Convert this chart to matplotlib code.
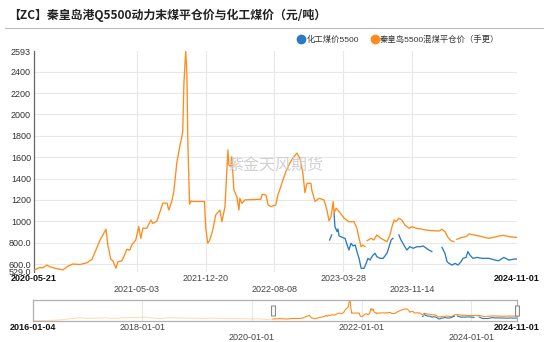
import numpy as np
import pandas as pd
import matplotlib
matplotlib.use('Agg')
import matplotlib.pyplot as plt
import matplotlib.dates as mdates
from matplotlib.lines import Line2D
from matplotlib.transforms import blended_transform_factory

plt.rcParams['font.family'] = ['Liberation Sans', 'Noto Sans CJK SC']

ORANGE = '#ff8c1a'
BLUE = '#2a7bbf'

title = '【ZC】秦皇岛港Q5500动力末煤平仓价与化工煤价（元/吨）'
name_chem = '化工煤价5500'
name_qhd = '秦皇岛5500混煤平仓价（手更）'

# 秦皇岛5500混煤平仓价（手更），None 为缺数
qhd_dates = [
    '2020-05-21', '2020-06-07', '2020-06-21', '2020-07-04', '2020-07-14', '2020-07-31',
    '2020-08-27', '2020-09-13', '2020-09-29', '2020-10-23', '2020-11-16', '2020-12-03',
    '2020-12-30', '2021-01-19', '2021-01-25', '2021-02-04', '2021-02-11', '2021-02-21',
    '2021-02-28', '2021-03-13', '2021-03-20', '2021-03-30', '2021-04-09', '2021-04-16',
    '2021-04-29', '2021-05-09', '2021-05-16', '2021-05-23', '2021-06-05', '2021-06-19',
    '2021-06-25', '2021-07-09', '2021-07-16', '2021-07-29', '2021-08-12', '2021-08-18',
    '2021-08-28', '2021-09-04', '2021-09-14', '2021-09-24', '2021-10-01', '2021-10-04',
    '2021-10-08', '2021-10-14', '2021-10-18', '2021-10-21', '2021-10-27', '2021-11-01',
    '2021-11-07', '2021-12-16', '2021-12-20', '2021-12-27', '2022-01-03', '2022-01-13',
    '2022-01-23', '2022-02-06', '2022-02-13', '2022-02-23', '2022-03-05', '2022-03-08',
    '2022-03-15', '2022-03-18', '2022-03-25', '2022-04-04', '2022-04-11', '2022-04-14',
    '2022-04-21', '2022-05-01', '2022-06-24', '2022-06-28', '2022-07-11', '2022-07-18',
    '2022-07-28', '2022-08-13', '2022-08-20', '2022-08-30', '2022-09-06', '2022-09-16',
    '2022-09-29', '2022-10-09', '2022-10-23', '2022-11-02', '2022-11-12', '2022-11-19',
    '2022-11-26', '2022-12-09', '2022-12-12', '2022-12-23', '2023-01-06', '2023-01-22',
    '2023-01-29', '2023-02-02', '2023-02-08', '2023-02-15', '2023-02-22', '2023-02-25',
    '2023-03-04', '2023-03-14', '2023-03-31', '2023-04-16', '2023-05-03', '2023-05-13',
    '2023-05-20', '2023-05-27', '2023-06-02', '2023-06-09', '2023-06-12', '2023-06-16',
    '2023-06-29', '2023-07-09', '2023-07-19', '2023-08-02', '2023-08-12', '2023-08-22',
    '2023-09-01', '2023-09-08', '2023-09-15', '2023-09-21', '2023-10-01', '2023-10-11',
    '2023-10-21', '2023-11-04', '2023-11-14', '2023-11-28', '2023-12-14', '2023-12-31',
    '2024-01-20', '2024-02-13', '2024-02-23', '2024-03-04', '2024-03-14', '2024-03-24',
    '2024-04-03', '2024-04-08', '2024-04-13', '2024-05-01', '2024-05-14', '2024-05-24',
    '2024-06-10', '2024-07-06', '2024-07-30', '2024-08-16', '2024-09-01', '2024-09-18',
    '2024-10-05', '2024-10-25', '2024-11-01',
]
qhd_values = [
    540, 565, 565, 590, 575, 560,
    545, 580, 600, 595, 612, 645,
    825, 925, 780, 645, 630, 560,
    622, 628, 670, 738, 730, 780,
    825, 950, 840, 935, 935, 1012,
    980, 1000, 1060, 1170, 1170, 1105,
    1185, 1280, 1545, 1700, 1793, 1840,
    2296, 2593, 2380, 1760, 1160, 1190,
    1185, 1185, 950, 795, 825, 918,
    1060, 1105, 996, 1137, 1668, 1527,
    1512, 1605, 1293, 1230, 1105, 1215,
    1168, 1200, 1206, 1253, 1246, 1153,
    1137, 1153, 1246, 1324, 1387, 1465,
    1543, 1590, 1637, 1590, 1450, 1268,
    1355, 1355, 1293, 1185, 1215, 1200,
    1137, 1090, 1005, 1043, 1185, 1075,
    1122, 1090, 1028, 996, 996, 934,
    840, 762, 778, 762, None, 818,
    840, 825, 872, 840, 825, 809,
    872, 950, 1012, 996, 1028, 1012,
    965, 934, 950, 934, 928, 918,
    912, 909, 925, 903, 850, 818,
    809, None, 831, 850, 856, 881,
    872, 856, 840, 850, 862, 868,
    856, 850, 850,
]

# 化工煤价5500
chem_dates = [
    '2023-02-10', '2023-02-17', '2023-02-21', '2023-02-25', '2023-02-28', '2023-03-07',
    '2023-03-10', '2023-03-14', '2023-03-24', '2023-04-03', '2023-04-10', '2023-04-16',
    '2023-04-23', '2023-04-30', '2023-05-07', '2023-05-13', '2023-05-20', '2023-05-27',
    '2023-06-06', '2023-06-13', '2023-06-19', '2023-06-26', '2023-07-06', '2023-07-13',
    '2023-07-19', '2023-07-30', '2023-08-09', '2023-08-22', '2023-08-29', '2023-09-05',
    '2023-09-11', '2023-09-20', '2023-10-01', '2023-10-08', '2023-10-21', '2023-10-28',
    '2023-11-07', '2023-11-18', '2023-12-01', '2023-12-14', '2023-12-21', '2023-12-28',
    '2024-01-10', '2024-01-20', '2024-02-05', '2024-02-23', '2024-03-04', '2024-03-11',
    '2024-03-18', '2024-03-28', '2024-04-07', '2024-04-17', '2024-04-27', '2024-05-04',
    '2024-05-14', '2024-05-20', '2024-05-27', '2024-06-06', '2024-06-20', '2024-07-06',
    '2024-07-30', '2024-08-19', '2024-09-01', '2024-09-18', '2024-10-05', '2024-10-25',
    '2024-11-01',
]
chem_values = [
    825, 872, None, 1068, 950, 903,
    928, 862, 850, 840, 778, 731,
    794, 769, 778, 716, 653, 560,
    560, 606, 653, 637, 684, 700,
    668, 653, 653, 700, 762, 825,
    840, None, 872, 825, 762, 731,
    762, 747, 762, 762, 769, 756,
    731, 716, None, 756, 700, 622,
    606, 590, 606, 590, 622, 653,
    662, 716, 684, 653, 662, 653,
    653, 637, 631, 662, 637, 647,
    647,
]

# 2016 年起的早期价格，只在下方缩略条中出现
hist_dates = [
    '2016-01-04', '2016-03-01', '2016-05-03', '2016-07-01', '2016-09-01', '2016-10-15',
    '2016-11-10', '2017-01-05', '2017-03-01', '2017-05-02', '2017-06-15', '2017-08-01',
    '2017-10-10', '2017-12-20', '2018-01-20', '2018-03-15', '2018-04-20', '2018-06-15',
    '2018-08-01', '2018-10-15', '2018-12-20', '2019-02-20', '2019-04-20', '2019-06-20',
    '2019-08-20', '2019-10-20', '2019-12-20', '2020-02-20', '2020-04-10', '2020-05-21',
]
hist_values = [
    370, 375, 390, 440, 560, 620,
    700, 610, 640, 680, 590, 640,
    700, 720, 770, 650, 580, 660,
    680, 640, 620, 610, 630, 600,
    590, 570, 560, 560, 480, 540,
]

y_ticks = [529, 600, 800, 1000, 1200, 1400, 1600, 1800, 2000, 2200, 2400, 2593]
y_labels = ['529.0', '600.0', '800.0', '1000', '1200', '1400', '1600', '1800',
            '2000', '2200', '2400', '2593']
x_ticks = ['2020-05-21', '2021-05-03', '2021-12-20', '2022-08-08', '2023-03-28',
           '2023-11-14', '2024-11-01']
nav_ticks = ['2016-01-04', '2018-01-01', '2020-01-01', '2022-01-01', '2024-01-01',
             '2024-11-01']
nav_lower = ['2020-01-01', '2024-01-01']


def to_series(dates, values):
    return pd.to_datetime(dates), np.array(values, dtype=float)


qd, qv = to_series(qhd_dates, qhd_values)
cd, cv = to_series(chem_dates, chem_values)
hd, hv = to_series(hist_dates, hist_values)

W, H = 550, 342
fig = plt.figure(figsize=(W / 100, H / 100), dpi=100)

# title + divider
fig.text(8 / W, 1 - 15 / H, title, fontsize=8.6, fontweight='bold', va='center',
         color='#222222', family=['Noto Sans CJK SC'])
fig.add_artist(Line2D([5 / W, 543 / W], [1 - 28 / H] * 2, color='#bbbbbb', lw=0.8))

# main chart
ax = fig.add_axes([33.8 / W, 1 - 271.6 / H, 483.1 / W, 220.6 / H])
ax.plot(qd, qv, color=ORANGE, lw=0.95, zorder=3)
ax.plot(cd, cv, color=BLUE, lw=0.95, zorder=3)
ax.set_xlim(pd.Timestamp(x_ticks[0]), pd.Timestamp(x_ticks[-1]))
ax.set_ylim(y_ticks[0], y_ticks[-1])

for v in y_ticks[1:-1]:
    ax.axhline(v, color='#e8e8e8', lw=0.8, zorder=0)
for d in x_ticks[1:-1]:
    ax.axvline(pd.Timestamp(d), color='#e8e8e8', lw=0.8, zorder=0)

ax.set_yticks(y_ticks, y_labels)
ax.tick_params(axis='y', length=0, pad=2, labelsize=6.5, labelcolor='#333333')

xl = [('\n' + d) if i % 2 else d for i, d in enumerate(x_ticks)]
ax.set_xticks(pd.to_datetime(x_ticks), xl)
ax.tick_params(axis='x', length=0, pad=2, labelsize=6.5, labelcolor='#444444')
for lab in (ax.get_xticklabels()[0], ax.get_xticklabels()[-1]):
    lab.set_fontweight('bold')
    lab.set_color('#111111')

for s in ['top', 'right', 'bottom']:
    ax.spines[s].set_visible(False)
ax.spines['left'].set_color('#666666')
ax.spines['left'].set_linewidth(0.9)

# legend
handles = [Line2D([], [], marker='o', ls='', color=BLUE, markersize=6),
           Line2D([], [], marker='o', ls='', color=ORANGE, markersize=6)]
fig.legend(handles, [name_chem, name_qhd], loc='center',
           bbox_to_anchor=(398 / W, 1 - 39.5 / H), ncol=2, frameon=False,
           fontsize=6, handletextpad=0.1, columnspacing=1.4, handlelength=1.0,
           labelcolor='#333333')

# watermark
fig.text(275 / W, 1 - 166 / H, '紫金天风期货', fontsize=11.5, color='#d0d0d0',
         ha='center', va='center', family=['Noto Sans CJK SC'], zorder=5)

# navigator strip
nav = fig.add_axes([33 / W, 1 - 320.7 / H, 484 / W, 20.7 / H])
nav.plot(hd, hv, color=ORANGE, lw=0.8, alpha=0.3)
nav.plot(qd, qv, color=ORANGE, lw=0.8)
nav.plot(cd, cv, color=BLUE, lw=0.8)
nav.set_xlim(pd.Timestamp(nav_ticks[0]), pd.Timestamp(nav_ticks[-1]))
nav.set_ylim(360, 2600)
nav.set_yticks([])
for d in nav_ticks[1:-1]:
    nav.axvline(pd.Timestamp(d), color='#e8e8e8', lw=0.8, zorder=0)
nl = [('\n' + d) if d in nav_lower else d for d in nav_ticks]
nav.set_xticks(pd.to_datetime(nav_ticks), nl)
nav.tick_params(axis='x', length=0, pad=1.5, labelsize=6.5, labelcolor='#444444')
for lab in (nav.get_xticklabels()[0], nav.get_xticklabels()[-1]):
    lab.set_fontweight('bold')
    lab.set_color('#111111')
for s in nav.spines.values():
    s.set_color('#b0b0b0')
    s.set_linewidth(0.9)

# selection handles at the window edges
tr = blended_transform_factory(nav.transData, nav.transAxes)
for d in (qd[0], qd[-1]):
    x0 = mdates.date2num(d)
    nav.plot([x0, x0], [0.25, 0.75], transform=tr, color='#888888', lw=3.6,
             solid_capstyle='butt', clip_on=False, zorder=6)
    nav.plot([x0, x0], [0.29, 0.71], transform=tr, color='white', lw=2.0,
             solid_capstyle='butt', clip_on=False, zorder=7)

fig.savefig('out.png', dpi=100)
